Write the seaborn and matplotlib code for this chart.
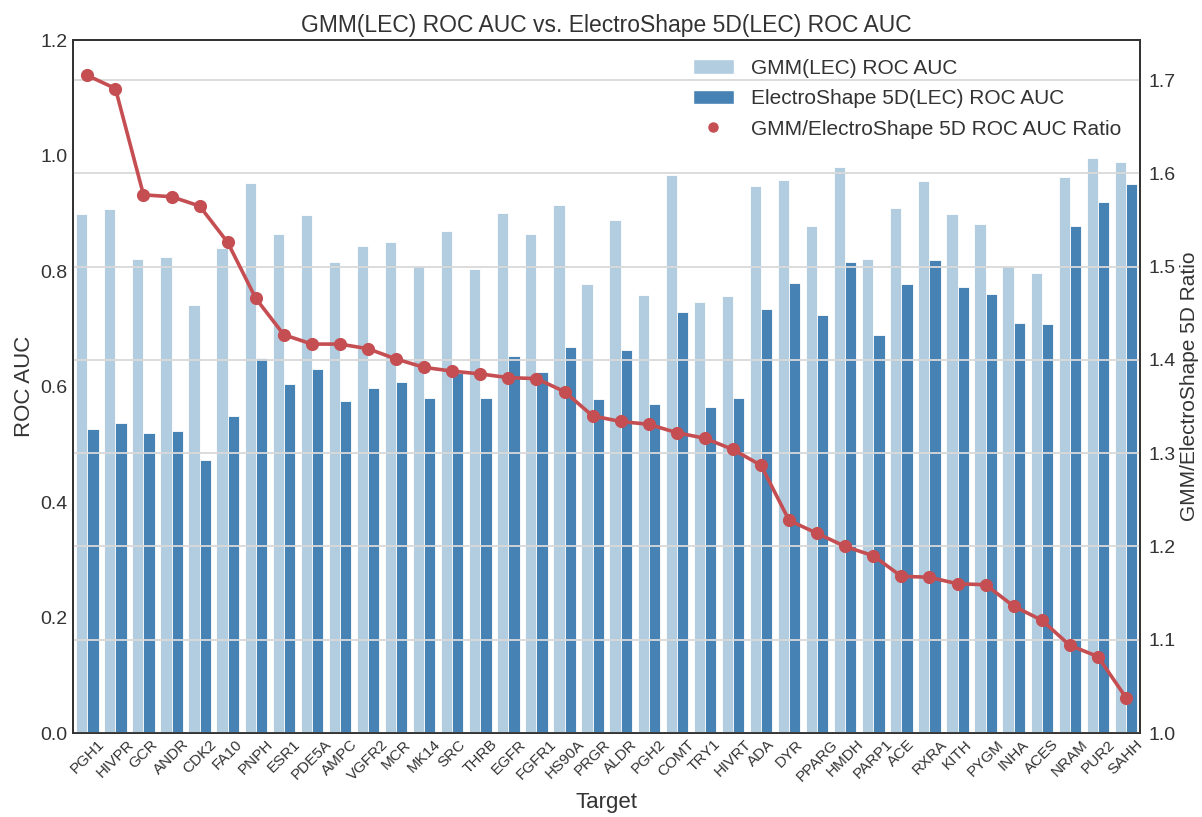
import matplotlib
matplotlib.use("Agg")
import matplotlib.pyplot as plt
import seaborn as sns
import pandas as pd
from matplotlib.patches import Patch
from matplotlib.lines import Line2D

targets = ["PGH1", "HIVPR", "GCR", "ANDR", "CDK2", "FA10", "PNPH", "ESR1", "PDE5A", "AMPC",
           "VGFR2", "MCR", "MK14", "SRC", "THRB", "EGFR", "FGFR1", "HS90A", "PRGR", "ALDR",
           "PGH2", "COMT", "TRY1", "HIVRT", "ADA", "DYR", "PPARG", "HMDH", "PARP1", "ACE",
           "RXRA", "KITH", "PYGM", "INHA", "ACES", "NRAM", "PUR2", "SAHH"]

gmm_auc = [0.899, 0.907, 0.821, 0.825, 0.741, 0.840, 0.953, 0.864, 0.897, 0.816,
           0.843, 0.851, 0.809, 0.869, 0.804, 0.901, 0.864, 0.915, 0.777, 0.888,
           0.759, 0.967, 0.746, 0.757, 0.948, 0.957, 0.878, 0.981, 0.820, 0.910,
           0.956, 0.898, 0.881, 0.808, 0.796, 0.963, 0.996, 0.989]

es5d_auc = [0.526, 0.536, 0.519, 0.523, 0.473, 0.549, 0.649, 0.604, 0.631, 0.575,
            0.597, 0.607, 0.580, 0.623, 0.580, 0.652, 0.625, 0.669, 0.579, 0.664,
            0.569, 0.729, 0.565, 0.580, 0.735, 0.779, 0.723, 0.816, 0.689, 0.778,
            0.819, 0.773, 0.760, 0.710, 0.709, 0.878, 0.919, 0.951]

ratio = [1.705, 1.691, 1.577, 1.575, 1.565, 1.526, 1.466, 1.427, 1.417, 1.417,
         1.412, 1.401, 1.392, 1.388, 1.385, 1.381, 1.380, 1.366, 1.340, 1.334,
         1.331, 1.322, 1.316, 1.304, 1.287, 1.228, 1.214, 1.200, 1.190, 1.168,
         1.167, 1.160, 1.159, 1.136, 1.121, 1.094, 1.082, 1.038]

series_names = ["GMM(LEC) ROC AUC", "ElectroShape 5D(LEC) ROC AUC"]
ratio_name = "GMM/ElectroShape 5D ROC AUC Ratio"

light = "#b3cde0"
dark = "#4682b4"
red = "#c44e52"

sns.set_style("white")
plt.rcParams["font.family"] = ["Liberation Sans", "DejaVu Sans"]

df = pd.DataFrame({
    "Target": targets * 2,
    "ROC AUC": gmm_auc + es5d_auc,
    "Method": [series_names[0]] * len(targets) + [series_names[1]] * len(targets),
})

fig = plt.figure(figsize=(12.02, 8.17), dpi=100)
ax = fig.add_axes([0.061, 0.1028, 0.8874, 0.8482])

sns.barplot(data=df, x="Target", y="ROC AUC", hue="Method", order=targets,
            hue_order=series_names, palette=[light, dark], saturation=1, ax=ax,
            edgecolor="white", linewidth=0.6, legend=False)
ax.set_ylim(0, 1.2)
ax.set_yticks([0.0, 0.2, 0.4, 0.6, 0.8, 1.0, 1.2])
ax.set_yticklabels(["0.0", "0.2", "0.4", "0.6", "0.8", "1.0", "1.2"])
ax.tick_params(axis="y", labelsize=14, length=0, pad=4)
ax.tick_params(axis="x", labelsize=11, length=0, pad=3)
plt.setp(ax.get_xticklabels(), rotation=45)
ax.set_xlabel("Target", fontsize=16, color="#333333", labelpad=6)
ax.set_ylabel("ROC AUC", fontsize=16, color="#333333")
ax.grid(False)

ax2 = ax.twinx()
sns.pointplot(x=targets, y=ratio, order=targets, ax=ax2, color=red,
              markers="o", markersize=7.5, linewidth=2.6)
ax2.set_ylim(1.0, 1.743)
ax2.set_yticks([1.0, 1.1, 1.2, 1.3, 1.4, 1.5, 1.6, 1.7])
ax2.set_yticklabels(["1.0", "1.1", "1.2", "1.3", "1.4", "1.5", "1.6", "1.7"])
ax2.tick_params(axis="y", labelsize=14, length=0, pad=6)
ax2.set_ylabel("GMM/ElectroShape 5D Ratio", fontsize=15, color="#333333", labelpad=3)
ax2.grid(True, axis="y", color="#d9d9d9", linewidth=1.3)
ax2.set_xlim(-0.5, len(targets) - 0.5)

for a in (ax, ax2):
    for s in a.spines.values():
        s.set_visible(True)
        s.set_color("#333333")
        s.set_linewidth(1.3)
    for lbl in a.get_yticklabels() + a.get_xticklabels():
        lbl.set_color("#333333")

handles = [Patch(facecolor=light, edgecolor="white"),
           Patch(facecolor=dark, edgecolor="white"),
           Line2D([], [], linestyle="none", marker="o", color=red, markersize=6.5)]
leg = ax2.legend(handles, series_names + [ratio_name], loc="upper right",
                 frameon=False, fontsize=15, labelspacing=0.55, handlelength=2.0)
for t in leg.get_texts():
    t.set_color("#333333")

ax.set_title("GMM(LEC) ROC AUC vs. ElectroShape 5D(LEC) ROC AUC", fontsize=16.5,
             color="#333333", pad=6)

fig.savefig("out.png", dpi=100)
